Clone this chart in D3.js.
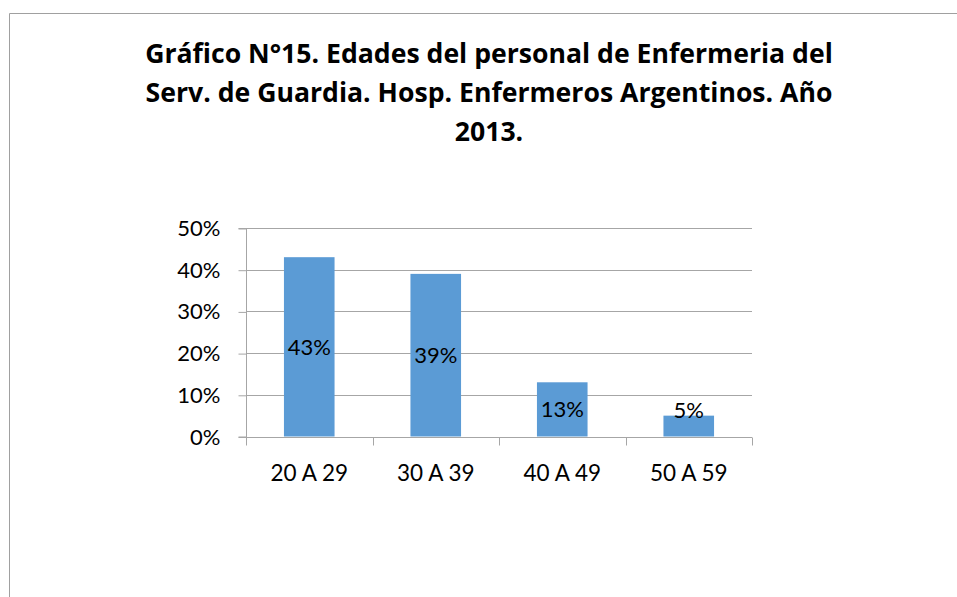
<!DOCTYPE html>
<html><head><meta charset="utf-8">
<script src="https://cdn.jsdelivr.net/npm/d3@7"></script>
<style>
html,body{margin:0;padding:0;background:#fff;}
svg{display:block;}
text{fill:#000;}
</style></head>
<body>
<svg id="chart" width="957" height="597"></svg>
<script>
const titleLines = ["Gráfico N°15. Edades del personal de Enfermeria del",
  "Serv. de Guardia. Hosp. Enfermeros Argentinos. Año", "2013."];
const categories = ["20 A 29", "30 A 39", "40 A 49", "50 A 59"];
const values = [0.43, 0.39, 0.13, 0.05];
const yTicks = [0, 0.1, 0.2, 0.3, 0.4, 0.5];

const svg = d3.select("#chart");
const gridColor = "#a6a6a6";
const bodyFont = "Lato, 'Open Sans', sans-serif";

// frame
svg.append("line").attr("x1",9.5).attr("x2",957).attr("y1",13.5).attr("y2",13.5).attr("stroke","#a0a0a0");
svg.append("line").attr("x1",9.5).attr("x2",9.5).attr("y1",13.5).attr("y2",597).attr("stroke","#a0a0a0");

// title
const title = svg.append("text").attr("text-anchor","middle")
  .style("font-weight","bold").style("font-family","'Open Sans', sans-serif").style("font-size","26px");
titleLines.forEach((t,i)=>{
  title.append("tspan").attr("x",489).attr("y",63 + i*39).text(t);
});
// fit title width to reference (~688px for line 1)
const first = title.select("tspan").node();
const w = first.getComputedTextLength();
if (w > 0) title.style("font-size", (26*688/w)+"px");

const x0 = 246, x1 = 752, yTop = 228, yBot = 436.5;
const x = d3.scaleBand().domain(categories).range([x0,x1]).paddingInner(0).paddingOuter(0);
const y = d3.scaleLinear().domain([0,0.5]).range([yBot,yTop]);

// gridlines
svg.append("g").selectAll("line").data(yTicks.filter(d=>d>0)).join("line")
  .attr("x1",x0).attr("x2",x1)
  .attr("y1",d=>Math.round(y(d))+0.5).attr("y2",d=>Math.round(y(d))+0.5)
  .attr("stroke",gridColor);

// bars
const bw = x.bandwidth()*0.4;
svg.append("g").selectAll("rect").data(values).join("rect")
  .attr("x",(d,i)=>x(categories[i]) + (x.bandwidth()-bw)/2)
  .attr("width",bw)
  .attr("y",d=>y(d))
  .attr("height",d=>y(0)-y(d))
  .attr("fill","#5b9bd5");

// y axis
const yAxis = d3.axisLeft(y).tickValues(yTicks).tickFormat(d3.format(".0%")).tickSize(8).tickPadding(18);
const gy = svg.append("g").attr("transform",`translate(${x0+0.5},0.5)`).call(yAxis);
gy.select(".domain").attr("stroke",gridColor).attr("d",`M-8,${y(0.5)}H0V${y(0)}H-8`);
gy.selectAll(".tick line").attr("stroke",gridColor);
gy.selectAll(".tick text").style("font-size","22px").style("font-family",bodyFont).attr("fill","#000");

// x axis
const xAxis = d3.axisBottom(x).tickSize(0).tickPadding(28);
const gx = svg.append("g").attr("transform",`translate(0,${Math.round(yBot)+0.5})`).call(xAxis);
gx.select(".domain").attr("stroke",gridColor).attr("d",`M${x0},0H${x1}`);
gx.selectAll(".tick text").style("font-size","22.5px").style("font-family",bodyFont).attr("fill","#000");
gx.selectAll(".sep").data(d3.range(categories.length+1)).join("line").attr("class","sep")
  .attr("x1",i=>Math.round(x0 + i*x.step())+0.5).attr("x2",i=>Math.round(x0 + i*x.step())+0.5)
  .attr("y1",0).attr("y2",8).attr("stroke",gridColor);

// data labels
svg.append("g").selectAll("text").data(values).join("text")
  .attr("x",(d,i)=>x(categories[i]) + x.bandwidth()/2)
  .attr("y",d=>Math.min((y(d)+y(0))/2, y(0)-27) + 8)
  .attr("text-anchor","middle").style("font-size","22px").style("font-family",bodyFont)
  .text(d=>d3.format(".0%")(d));
</script>
</body></html>
